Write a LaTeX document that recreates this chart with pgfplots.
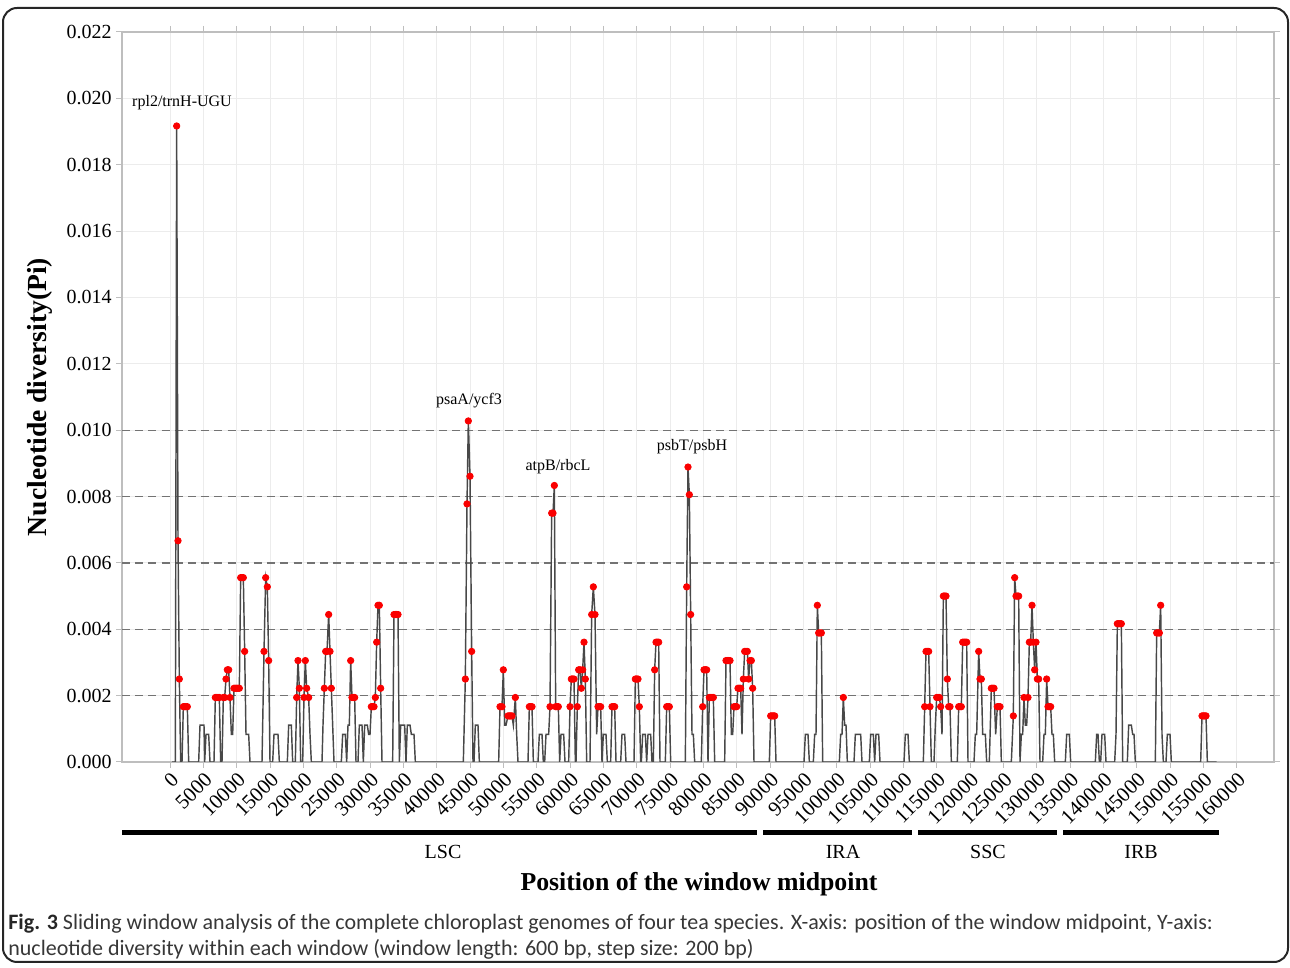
\documentclass[border=0pt]{standalone}
\usepackage{fontspec}
\setmainfont{Liberation Serif}
\newfontfamily\capfont{Carlito}
\usepackage{pgfplots}
\usepackage{pgfplotstable}
\pgfplotsset{compat=1.18}
\definecolor{linecol}{RGB}{72,72,72}
\definecolor{dotred}{RGB}{250,0,0}
\definecolor{gridcol}{RGB}{236,236,236}
\definecolor{dashcol}{RGB}{115,115,115}
\definecolor{capcol}{RGB}{55,55,55}
\definecolor{framecol}{RGB}{190,190,190}

\pgfplotstableread{
pos pi
300 0
800 0
1000 0.019167
1200 0.006667
1400 0.002500
1600 0
1800 0
2000 0.001667
2200 0.001667
2400 0.001667
2600 0.001667
2800 0
4300 0
4500 0.001111
4700 0.001111
4900 0.001111
5100 0.001111
5200 0
5400 0.000833
5600 0.000833
5800 0.000833
6000 0
6600 0
6800 0.001944
7000 0.001944
7200 0.001944
7400 0.001944
7600 0
7800 0
8000 0.001944
8200 0.001944
8400 0.002500
8600 0.002778
8800 0.002778
9000 0.001944
9200 0.000833
9400 0.000833
9600 0.002222
9800 0.002222
10000 0.002222
10200 0.002222
10400 0.002222
10600 0.005556
10800 0.005556
11000 0.005556
11200 0.003333
11400 0.000833
11600 0.000833
11800 0.000833
12000 0
13800 0
14100 0.003333
14350 0.005556
14600 0.005278
14800 0.003056
15000 0
15400 0
15600 0.000833
15800 0.000833
16000 0.000833
16200 0.000833
16400 0
17600 0
17800 0.001111
18000 0.001111
18200 0.001111
18400 0
18800 0
19000 0.001944
19200 0.003056
19400 0.002222
19600 0
19900 0
20100 0.001944
20300 0.003056
20500 0.002222
20800 0.001944
21000 0.000833
21200 0
22800 0
22950 0.001111
23150 0.002222
23350 0.003333
23550 0.003333
23800 0.004444
24000 0.003333
24200 0.002222
24400 0.001111
24600 0
25700 0
25900 0.000833
26100 0.000833
26300 0.000833
26500 0
26700 0.001111
26900 0.001111
27100 0.003056
27300 0.001944
27500 0.001944
27700 0.001944
27900 0
28200 0
28400 0.001111
28600 0.001111
28800 0.001111
29000 0
29200 0.001111
29400 0.001111
29600 0.001111
29800 0.000833
30000 0.000833
30200 0.001667
30400 0.001667
30600 0.001667
30800 0.001944
31000 0.003611
31200 0.004722
31400 0.004722
31600 0.002222
31800 0
33400 0
33600 0.004444
33800 0.004444
34000 0.004444
34200 0.004444
34400 0
34600 0.001111
34800 0.001111
35000 0.001111
35200 0.001111
35400 0
35600 0.001111
35800 0.001111
36000 0.001111
36200 0.000833
36400 0.000833
36600 0.000833
36800 0
44000 0
44300 0.002500
44550 0.007778
44750 0.010278
45000 0.008611
45250 0.003333
45450 0
45600 0
45800 0.001111
46000 0.001111
46200 0.001111
46400 0
49300 0
49500 0.001667
49800 0.001667
50000 0.002778
50200 0.001111
50400 0.001111
50700 0.001389
50900 0.001389
51100 0.001389
51300 0.001389
51500 0.001111
51800 0.001944
52000 0.000833
52200 0
53700 0
53900 0.001667
54100 0.001667
54300 0.001667
54500 0
55200 0
55400 0.000833
55600 0.000833
55800 0.000833
56000 0
56200 0
56400 0.000833
56600 0.000833
56800 0.000833
57000 0.001667
57250 0.007500
57450 0.007500
57650 0.008333
57850 0.001667
58050 0.001667
58250 0.001667
58450 0
58650 0.000833
58850 0.000833
59050 0.000833
59250 0
59800 0
60000 0.001667
60200 0.002500
60400 0.002500
60600 0.002500
60800 0
60900 0
61100 0.001667
61300 0.002778
61500 0.002778
61700 0.002222
61900 0.002778
62100 0.003611
62300 0.002500
62500 0
63000 0
63250 0.004444
63500 0.005278
63750 0.004444
64000 0.000833
64200 0.001667
64400 0.001667
64600 0.001667
64800 0
65000 0.000833
65200 0.000833
65400 0.000833
65600 0
66100 0
66300 0.001667
66500 0.001667
66700 0.001667
66900 0
67600 0
67800 0.000833
68000 0.000833
68200 0.000833
68400 0
69600 0
69800 0.002500
70000 0.002500
70200 0.002500
70400 0.001667
70600 0
70700 0
70900 0.000833
71100 0.000833
71300 0.000833
71500 0
71700 0.000833
71900 0.000833
72100 0.000833
72300 0
72500 0
72700 0.002778
72900 0.003611
73100 0.003611
73300 0.003611
73500 0
74300 0
74500 0.001667
74700 0.001667
74900 0.001667
75100 0
77300 0
77500 0.005278
77700 0.008889
77900 0.008056
78100 0.004444
78300 0.000833
78500 0.000833
78700 0
79700 0
79900 0.001667
80100 0.002778
80300 0.002778
80500 0.002778
80700 0
80900 0.001944
81100 0.001944
81300 0.001944
81500 0.001944
81700 0
83200 0
83400 0.003056
83600 0.003056
83800 0.003056
84000 0.003056
84200 0.000833
84400 0.000833
84600 0.001667
84800 0.001667
85000 0.001667
85200 0.002222
85400 0.002222
85600 0.002222
85800 0.000833
86000 0.002500
86200 0.003333
86400 0.003333
86600 0.003333
86800 0.002500
87000 0.003056
87200 0.003056
87400 0.002222
87600 0
89900 0
90100 0.001389
90300 0.001389
90500 0.001389
90700 0.001389
90900 0
95100 0
95300 0.000833
95500 0.000833
95700 0.000833
95900 0
96500 0
96700 0.000833
96900 0.000833
97100 0.004722
97300 0.003889
97500 0.003889
97700 0.003889
97900 0
100400 0
100600 0.000833
100800 0.000833
101000 0.001944
101200 0.001111
101400 0.001111
101600 0
102600 0
102800 0.000833
103000 0.000833
103200 0.000833
103400 0.000833
103600 0.000833
103800 0
104900 0
105100 0.000833
105300 0.000833
105500 0.000833
105700 0
105900 0.000833
106100 0.000833
106300 0.000833
106500 0
110100 0
110300 0.000833
110500 0.000833
110700 0.000833
110900 0
113000 0
113200 0.001667
113400 0.003333
113600 0.003333
113800 0.003333
114000 0.001667
114200 0
114600 0
114800 0.001111
115000 0.001944
115200 0.001944
115400 0.001944
115600 0.001667
115800 0.000833
116000 0.005000
116200 0.005000
116400 0.005000
116600 0.002500
116800 0.001667
117000 0.001667
117200 0
118100 0
118300 0.001667
118500 0.001667
118700 0.001667
118900 0.003611
119100 0.003611
119300 0.003611
119500 0.003611
119700 0
120600 0
120800 0.000833
121000 0.000833
121300 0.003333
121500 0.002500
121700 0.002500
121900 0.000833
122100 0.000833
122300 0.000833
122500 0
122900 0
123200 0.002222
123400 0.002222
123600 0.002222
123850 0.000833
124100 0.001667
124300 0.001667
124500 0.001667
124700 0
126200 0
126500 0.001389
126700 0.005556
126900 0.005000
127100 0.005000
127300 0.005000
127500 0
127700 0.000833
127900 0.000833
128100 0.001944
128300 0.001111
128500 0.001111
128700 0.001944
128900 0.003611
129100 0.003611
129300 0.004722
129500 0.003611
129700 0.002778
129900 0.003611
130100 0.002500
130300 0.002500
130500 0
130900 0
131100 0.000833
131300 0.000833
131500 0.002500
131700 0.001667
131900 0.001667
132100 0.001667
132300 0.000833
132500 0.000833
132700 0
134300 0
134500 0.000833
134700 0.000833
134900 0.000833
135100 0
138800 0
139000 0.000833
139200 0.000833
139400 0
139600 0
139800 0.000833
140000 0.000833
140200 0.000833
140400 0
141700 0
141900 0.000833
142100 0.004167
142300 0.004167
142500 0.004167
142700 0.004167
142900 0
143600 0
143800 0.001111
144000 0.001111
144200 0.001111
144400 0.000833
144600 0.000833
144800 0
147800 0
148000 0.003889
148200 0.003889
148400 0.003889
148600 0.004722
148800 0.000833
149000 0
149400 0
149600 0.000833
149800 0.000833
150000 0.000833
150200 0
154600 0
154800 0.001389
155000 0.001389
155200 0.001389
155400 0.001389
155600 0
157000 0
}\pidata

\begin{document}
\begin{tikzpicture}[x=0.5pt,y=0.5pt]
\path[use as bounding box] (0,0) rectangle (1290,968);
\draw[black!85, line width=1pt, rounded corners=7pt] (3,6) rectangle (1288,960);
\begin{axis}[
  at={(61pt,103pt)}, anchor=south west, scale only axis,
  width=576pt, height=365pt,
  xmin=-7200, xmax=165600, ymin=0, ymax=0.022,
  axis line style={framecol, line width=0.6pt},
  xtick={0,5000,10000,15000,20000,25000,30000,35000,40000,45000,50000,55000,60000,65000,70000,75000,80000,85000,90000,95000,100000,105000,110000,115000,120000,125000,130000,135000,140000,145000,150000,155000,160000},
  ytick={0,0.002,0.004,0.006,0.008,0.010,0.012,0.014,0.016,0.018,0.020,0.022},
  scaled x ticks=false, scaled y ticks=false,
  tick align=outside, major tick length=3pt,
  tick style={framecol, line width=0.5pt},
  grid=major, major grid style={gridcol, line width=0.5pt},
  /pgf/number format/assume math mode=true,
  xticklabel style={rotate=45, anchor=north east, inner sep=1pt,
     font=\fontsize{10.4}{11}\selectfont,
     /pgf/number format/.cd, fixed, precision=0, 1000 sep={}},
  yticklabel style={font=\fontsize{10}{11}\selectfont, inner sep=2pt,
     /pgf/number format/.cd, fixed, fixed zerofill, precision=3},
  clip marker paths=true,
]
\draw[dashcol, dash pattern=on 4pt off 2.6pt, line width=0.65pt] (axis cs:-7200,0.002) -- (axis cs:165600,0.002);
\draw[dashcol, dash pattern=on 4pt off 2.6pt, line width=0.65pt] (axis cs:-7200,0.004) -- (axis cs:165600,0.004);
\draw[dashcol, dash pattern=on 4pt off 2.6pt, line width=0.65pt] (axis cs:-7200,0.006) -- (axis cs:165600,0.006);
\draw[dashcol, dash pattern=on 4pt off 2.6pt, line width=0.65pt] (axis cs:-7200,0.008) -- (axis cs:165600,0.008);
\draw[dashcol, dash pattern=on 4pt off 2.6pt, line width=0.65pt] (axis cs:-7200,0.010) -- (axis cs:165600,0.010);
\addplot[linecol, line width=0.72pt, no markers] table[x=pos,y=pi]{\pidata};
\addplot[only marks, mark=*, mark size=1.6pt, dotred, mark options={draw=none, fill=dotred},
  restrict y to domain=0.0013:0.03] table[x=pos,y=pi]{\pidata};
\node[font=\fontsize{8}{9}\selectfont] at (axis cs:1800,0.01986) {rpl2/trnH-UGU};
\node[font=\fontsize{8}{9}\selectfont] at (axis cs:44850,0.01088) {psaA/ycf3};
\node[font=\fontsize{8}{9}\selectfont] at (axis cs:58200,0.00889) {atpB/rbcL};
\node[font=\fontsize{8}{9}\selectfont] at (axis cs:78300,0.00949) {psbT/psbH};
\end{axis}
% region bars
\draw[black, line width=2.5pt] (122,135) -- (757,135);
\draw[black, line width=2.5pt] (763,135) -- (912,135);
\draw[black, line width=2.5pt] (918,135) -- (1057,135);
\draw[black, line width=2.5pt] (1063,135) -- (1219,135);
\node[font=\fontsize{10}{11}\selectfont] at (443,116) {LSC};
\node[font=\fontsize{10}{11}\selectfont] at (843,116) {IRA};
\node[font=\fontsize{10}{11}\selectfont] at (988,116) {SSC};
\node[font=\fontsize{10}{11}\selectfont] at (1141,116) {IRB};
\node[font=\fontsize{12.9}{15}\selectfont\bfseries] at (699,84) {Position of the window midpoint};
\node[font=\fontsize{13.8}{15}\selectfont\bfseries, rotate=90] at (40,571) {Nucleotide diversity(Pi)};
\node[anchor=base west, inner sep=0pt, text=capcol, font=\capfont\fontsize{11}{13}\selectfont] at (8,38)
  {{\bfseries\color{black!85}Fig. 3} Sliding window analysis of the complete chloroplast genomes of four tea species. X-axis: position of the window midpoint, Y-axis:};
\node[anchor=base west, inner sep=0pt, text=capcol, font=\capfont\fontsize{11}{13}\selectfont] at (8,12)
  {nucleotide diversity within each window (window length: 600 bp, step size: 200 bp)};
\end{tikzpicture}
\end{document}
